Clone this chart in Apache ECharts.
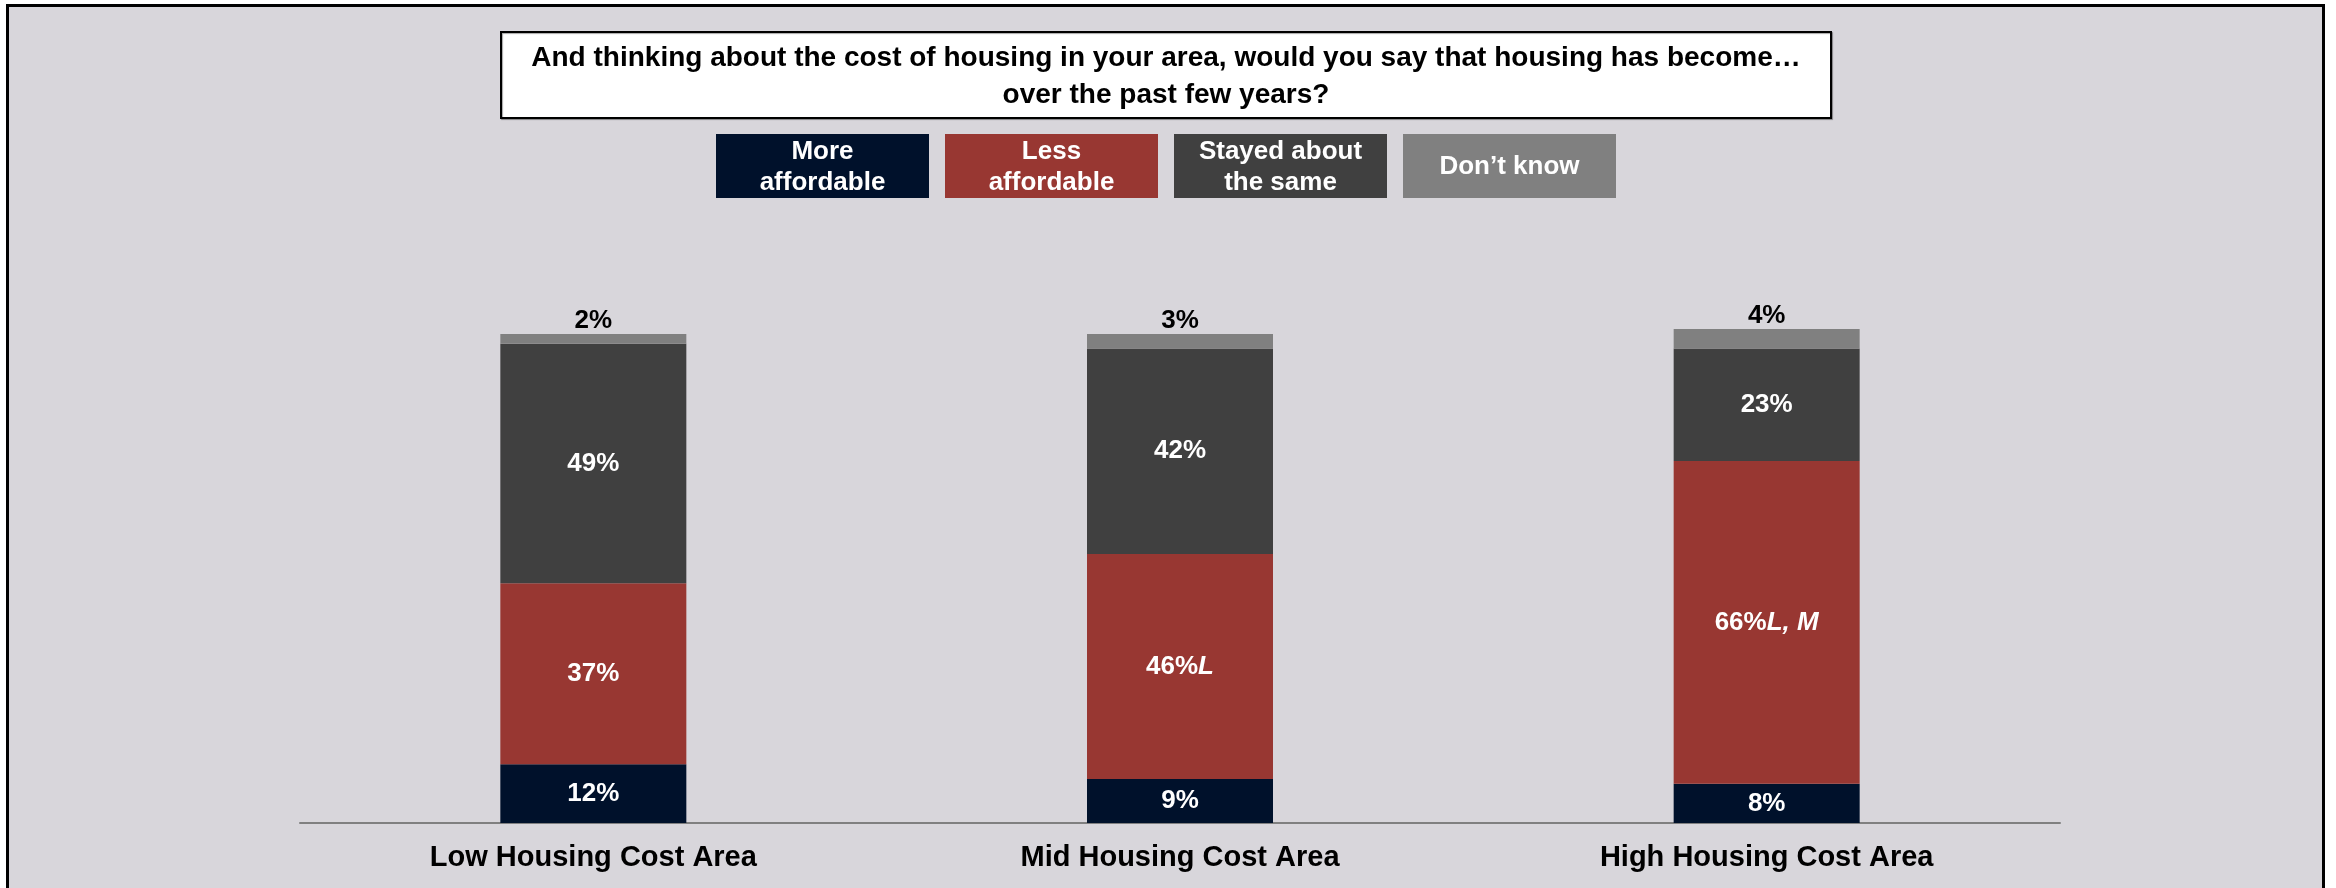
<!DOCTYPE html>
<html>
<head>
<meta charset="utf-8">
<script src="https://cdn.jsdelivr.net/npm/echarts@6/dist/echarts.min.js"></script>
<style>
  html, body { margin: 0; padding: 0; background: #ffffff; }
  #chart { width: 2336px; height: 888px; }
</style>
</head>
<body>
<div id="chart"></div>
<script>
// Survey question and answer groups
const questionText = 'And thinking about the cost of housing in your area, would you say that housing has become…\nover the past few years?';
const categories = ['Low Housing Cost Area', 'Mid Housing Cost Area', 'High Housing Cost Area'];
const legendLabels = ['More\naffordable', 'Less\naffordable', 'Stayed about\nthe same', 'Don’t know'];

// Share of respondents (%) per answer, per area
const moreAffordable = [12, 9, 8];
const lessAffordable = [37, 46, 66];
const lessAffordableSig = ['', 'L', 'L, M'];   // significance markers vs other areas
const stayedSame = [49, 42, 23];
const dontKnow = [2, 3, 4];

const colors = ['#00112b', '#983732', '#404040', '#808080'];
const FONT = '"Liberation Sans", Arial, sans-serif';

const chart = echarts.init(document.getElementById('chart'), null, { renderer: 'canvas' });

const insideLabel = {
  show: true,
  position: 'inside',
  color: '#ffffff',
  fontFamily: FONT,
  fontWeight: 'bold',
  fontSize: 26,
  formatter: p => p.value + '%'
};

function centeredText(x, y, text, fill, size, lineHeight) {
  return {
    type: 'text',
    z: 6,
    x: x,
    y: y,
    style: {
      text: text,
      fill: fill,
      font: 'bold ' + size + 'px ' + FONT,
      lineHeight: lineHeight,
      align: 'center',
      verticalAlign: 'middle'
    }
  };
}

// Legend boxes with their text inside
const legendBoxW = 213, legendGap = 16, legendTop = 134, legendH = 64, legendLeft = 716;
const legendGraphics = [];
legendLabels.forEach((txt, i) => {
  const x0 = legendLeft + i * (legendBoxW + legendGap);
  legendGraphics.push({
    type: 'rect',
    z: 5,
    shape: { x: x0, y: legendTop, width: legendBoxW, height: legendH },
    style: { fill: colors[i] }
  });
  legendGraphics.push(centeredText(x0 + legendBoxW / 2, legendTop + legendH / 2 + 1, txt, '#ffffff', 26, 31));
});

const option = {
  backgroundColor: '#ffffff',
  animation: false,
  graphic: [
    // outer frame
    {
      type: 'rect',
      z: -10,
      shape: { x: 7.5, y: 5.5, width: 2316, height: 910 },
      style: { fill: '#d8d6db', stroke: '#000000', lineWidth: 3 }
    },
    // question box
    {
      type: 'rect',
      z: 5,
      shape: { x: 501, y: 32, width: 1330, height: 86 },
      style: {
        fill: '#ffffff', stroke: '#000000', lineWidth: 2,
        shadowColor: 'rgba(0,0,0,0.35)', shadowOffsetX: 1, shadowOffsetY: 1, shadowBlur: 1
      }
    },
    centeredText(1166, 77, questionText, '#000000', 28, 37)
  ].concat(legendGraphics),
  grid: { left: 300, right: 276, top: 285, bottom: 65, containLabel: false },
  xAxis: {
    type: 'category',
    data: categories,
    axisLine: { show: true, lineStyle: { color: '#808080', width: 2 } },
    axisTick: { show: false },
    axisLabel: {
      color: '#000000',
      fontFamily: FONT,
      fontWeight: 'bold',
      fontSize: 29,
      margin: 20
    }
  },
  yAxis: {
    type: 'value',
    min: 0,
    max: 110,
    show: false,
    splitLine: { show: false }
  },
  series: [
    {
      name: 'More affordable',
      type: 'bar',
      stack: 'total',
      barWidth: 186,
      data: moreAffordable,
      itemStyle: { color: colors[0] },
      label: insideLabel
    },
    {
      name: 'Less affordable',
      type: 'bar',
      stack: 'total',
      barWidth: 186,
      data: lessAffordable,
      itemStyle: { color: colors[1] },
      label: {
        show: true,
        position: 'inside',
        formatter: p => '{v|' + p.value + '%}' + (lessAffordableSig[p.dataIndex] ? '{s|' + lessAffordableSig[p.dataIndex] + '}' : ''),
        rich: {
          v: { color: '#ffffff', fontFamily: FONT, fontWeight: 'bold', fontSize: 26 },
          s: { color: '#ffffff', fontFamily: FONT, fontWeight: 'bold', fontStyle: 'italic', fontSize: 26 }
        }
      }
    },
    {
      name: 'Stayed about the same',
      type: 'bar',
      stack: 'total',
      barWidth: 186,
      data: stayedSame,
      itemStyle: { color: colors[2] },
      label: insideLabel
    },
    {
      name: 'Don’t know',
      type: 'bar',
      stack: 'total',
      barWidth: 186,
      data: dontKnow,
      itemStyle: { color: colors[3] },
      label: {
        show: true,
        position: 'top',
        distance: 0,
        color: '#000000',
        fontFamily: FONT,
        fontWeight: 'bold',
        fontSize: 26,
        formatter: p => p.value + '%'
      }
    }
  ]
};

chart.setOption(option);
</script>
</body>
</html>
